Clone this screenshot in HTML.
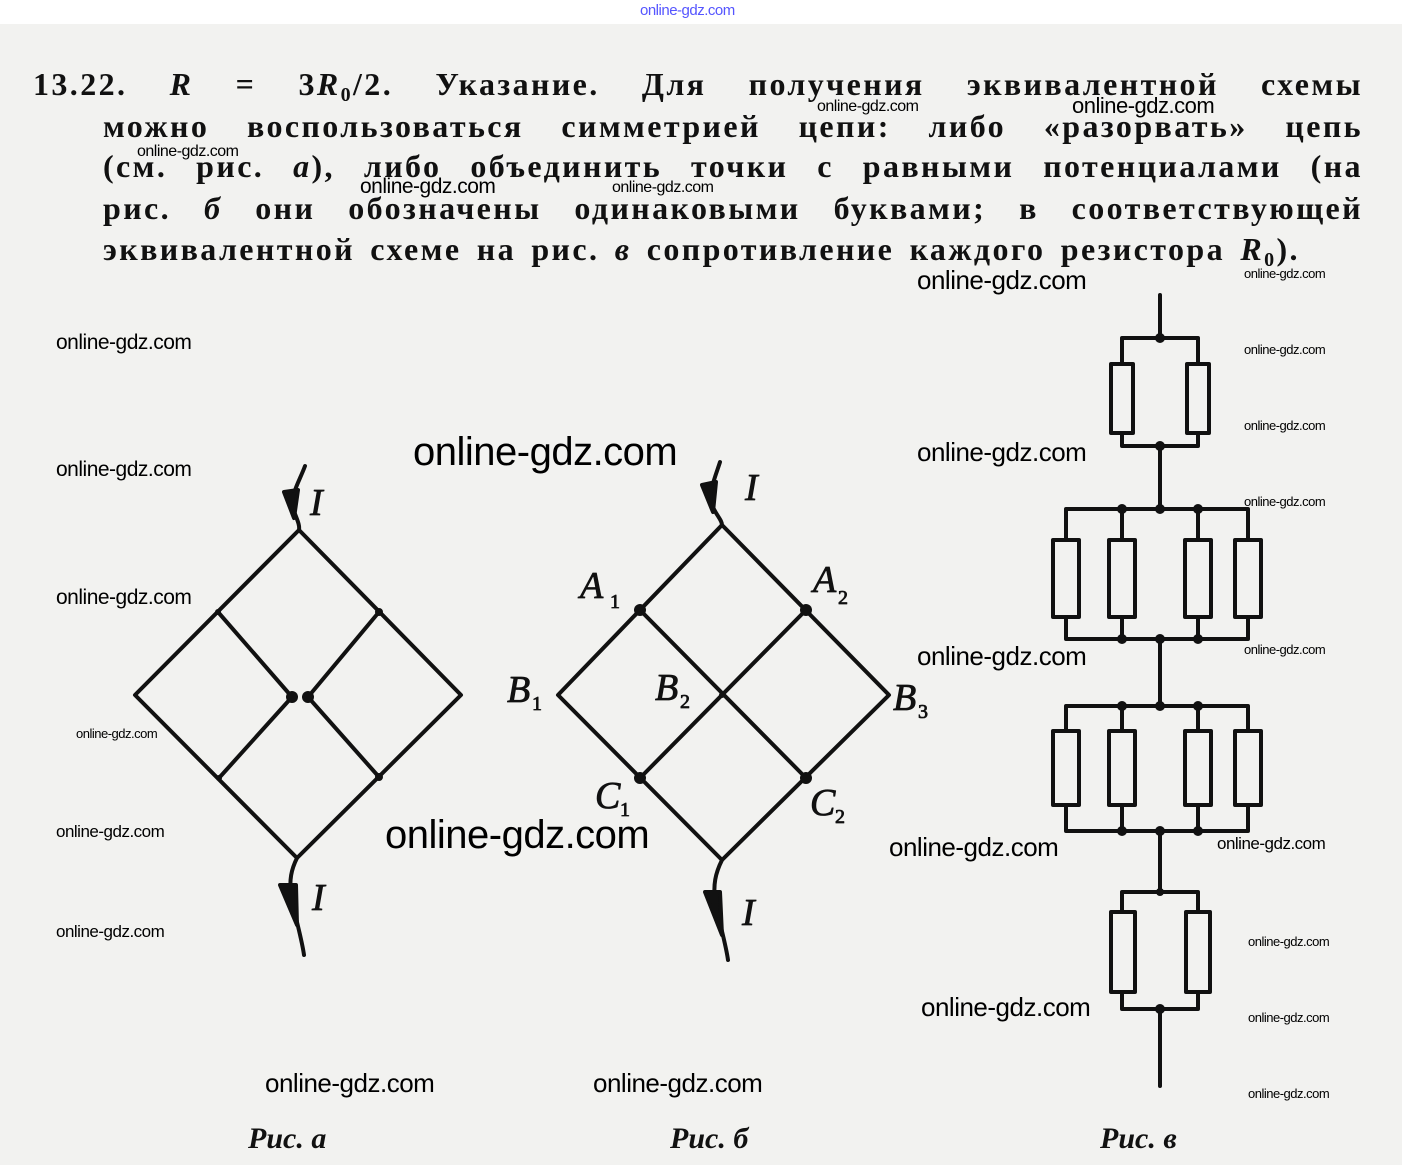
<!DOCTYPE html>
<html><head><meta charset="utf-8"><style>
body{margin:0;width:1402px;height:1165px;background:#f2f2f0;position:relative;overflow:hidden;font-family:"Liberation Serif",serif}
.top{position:absolute;left:0;top:0;width:1402px;height:24px;background:#fff}
.ln{position:absolute;font-weight:bold;font-size:32px;letter-spacing:2.4px;white-space:nowrap;color:#111;line-height:36px;display:flex;justify-content:space-between}
.w{position:absolute;font-family:"Liberation Sans",sans-serif;color:#000;white-space:nowrap;line-height:1;letter-spacing:-0.5px}
sub{font-size:20px;vertical-align:-6px;line-height:0}
i{font-style:italic}
</style></head><body>
<div class="top"></div>
<div class="w" style="left:640px;top:3px;font-size:15px;color:#55f">online-gdz.com</div>
<div class="ln" style="left:33px;top:66px;width:1330px"><span>13.22.</span><span><i>R</i></span><span>=</span><span>3<i>R</i><sub>0</sub>/2.</span><span>Указание.</span><span>Для</span><span>получения</span><span>эквивалентной</span><span>схемы</span></div>
<div class="ln" style="left:103px;top:108px;width:1260px"><span>можно</span><span>воспользоваться</span><span>симметрией</span><span>цепи:</span><span>либо</span><span>«разорвать»</span><span>цепь</span></div>
<div class="ln" style="left:103px;top:148px;width:1260px"><span>(см.</span><span>рис.</span><span><i>а</i>),</span><span>либо</span><span>объединить</span><span>точки</span><span>с</span><span>равными</span><span>потенциалами</span><span>(на</span></div>
<div class="ln" style="left:103px;top:190px;width:1260px"><span>рис.</span><span><i>б</i></span><span>они</span><span>обозначены</span><span>одинаковыми</span><span>буквами;</span><span>в</span><span>соответствующей</span></div>
<div class="ln" style="left:103px;top:231px;width:1197px"><span>эквивалентной</span><span>схеме</span><span>на</span><span>рис.</span><span><i>в</i></span><span>сопротивление</span><span>каждого</span><span>резистора</span><span><i>R</i><sub>0</sub>).</span></div>

<svg style="position:absolute;left:0;top:0" width="1402" height="1165" fill="none" stroke="#111" stroke-width="4" stroke-linecap="round" stroke-linejoin="round">
<path d="M299,530 L135,695 L297,858 L461,695 Z"/>
<path d="M218,612 L292,697 L219,778"/>
<path d="M379,612 L308,697 L379,777"/>
<g fill="#111" stroke="none"><circle cx="292" cy="697" r="6"/><circle cx="308" cy="697" r="6"/><circle cx="218" cy="612" r="3"/><circle cx="379" cy="612" r="4"/><circle cx="219" cy="778" r="3"/><circle cx="379" cy="777" r="4"/></g>
<path d="M305,466 C300,480 290,495 293,508 C296,518 300,524 299,530"/>
<path d="M297,858 C292,868 288,880 292,900 C296,920 302,940 304,955"/>
<path d="M284,492 L294,518 L298,490 Z" fill="#111"/>
<path d="M280,885 L297,925 L296,885 Z" fill="#111"/>
<path d="M722,525 L558,695 L722,860 L889,695 Z"/>
<path d="M640,610 L806,778"/>
<path d="M806,610 L640,778"/>
<g fill="#111" stroke="none"><circle cx="640" cy="610" r="6"/><circle cx="806" cy="610" r="6"/><circle cx="640" cy="778" r="6"/><circle cx="806" cy="778" r="6"/><circle cx="722" cy="695" r="3"/></g>
<path d="M720,462 C716,475 708,492 712,505 C716,515 722,520 722,525"/>
<path d="M722,860 C716,872 712,885 716,905 C720,925 726,945 728,960"/>
<path d="M702,485 L713,512 L716,482 Z" fill="#111"/>
<path d="M705,892 L722,935 L720,892 Z" fill="#111"/>
<path d="M1160,295 L1160,338 M1122,338 L1198,338 M1122,338 L1122,364 M1198,338 L1198,364 M1122,433 L1122,446 L1198,446 L1198,433 M1160,446 L1160,509"/>
<rect x="1111" y="364" width="22" height="69"/><rect x="1187" y="364" width="22" height="69"/>
<path d="M1066,509 L1248,509 M1066,509 L1066,540 M1122,509 L1122,540 M1198,509 L1198,540 M1248,509 L1248,540 M1066,617 L1066,639 L1248,639 L1248,617 M1122,617 L1122,639 M1198,617 L1198,639 M1160,639 L1160,706"/>
<rect x="1053" y="540" width="26" height="77"/><rect x="1109" y="540" width="26" height="77"/><rect x="1185" y="540" width="26" height="77"/><rect x="1235" y="540" width="26" height="77"/>
<path d="M1066,706 L1248,706 M1066,706 L1066,731 M1122,706 L1122,731 M1198,706 L1198,731 M1248,706 L1248,731 M1066,805 L1066,831 L1248,831 L1248,805 M1122,805 L1122,831 M1198,805 L1198,831 M1160,831 L1160,892"/>
<rect x="1053" y="731" width="26" height="74"/><rect x="1109" y="731" width="26" height="74"/><rect x="1185" y="731" width="26" height="74"/><rect x="1235" y="731" width="26" height="74"/>
<path d="M1122,892 L1198,892 M1122,892 L1122,912 M1198,892 L1198,912 M1122,992 L1122,1009 L1198,1009 L1198,992 M1160,1009 L1160,1086"/>
<rect x="1111" y="912" width="24" height="80"/><rect x="1186" y="912" width="24" height="80"/>
<g fill="#111" stroke="none"><circle cx="1160" cy="338" r="5"/><circle cx="1160" cy="446" r="5"/><circle cx="1160" cy="509" r="5"/><circle cx="1122" cy="509" r="5"/><circle cx="1198" cy="509" r="5"/><circle cx="1160" cy="639" r="5"/><circle cx="1122" cy="639" r="5"/><circle cx="1198" cy="639" r="5"/><circle cx="1160" cy="706" r="5"/><circle cx="1122" cy="706" r="5"/><circle cx="1198" cy="706" r="5"/><circle cx="1160" cy="831" r="5"/><circle cx="1122" cy="831" r="5"/><circle cx="1198" cy="831" r="5"/><circle cx="1160" cy="892" r="4"/><circle cx="1160" cy="1009" r="5"/></g>
<g fill="#111" stroke="#111" stroke-width="0.8" font-family="Liberation Serif,serif" font-style="italic" font-size="38">
<text x="310" y="515">I</text><text x="312" y="910">I</text><text x="745" y="500">I</text><text x="742" y="925">I</text>
<text x="580" y="598">A</text><text x="610" y="608" font-size="20" font-style="normal">1</text>
<text x="813" y="592">A</text><text x="838" y="604" font-size="20" font-style="normal">2</text>
<text x="507" y="702">B</text><text x="532" y="710" font-size="20" font-style="normal">1</text>
<text x="655" y="700">B</text><text x="680" y="708" font-size="20" font-style="normal">2</text>
<text x="893" y="710">B</text><text x="918" y="718" font-size="20" font-style="normal">3</text>
<text x="595" y="808">C</text><text x="620" y="816" font-size="20" font-style="normal">1</text>
<text x="810" y="815">C</text><text x="835" y="823" font-size="20" font-style="normal">2</text>
</g>
<g fill="#111" stroke="none" font-family="Liberation Serif,serif" font-style="italic" font-weight="bold" font-size="30">
<text x="248" y="1148">Рис. а</text><text x="670" y="1148">Рис. б</text><text x="1100" y="1148">Рис. в</text>
</g>
</svg>

<div class="w" style="left:817px;top:99px;font-size:16px">online-gdz.com</div>
<div class="w" style="left:1072px;top:95px;font-size:22px">online-gdz.com</div>
<div class="w" style="left:137px;top:144px;font-size:16px">online-gdz.com</div>
<div class="w" style="left:360px;top:176px;font-size:21px">online-gdz.com</div>
<div class="w" style="left:612px;top:180px;font-size:16px">online-gdz.com</div>
<div class="w" style="left:917px;top:267px;font-size:26px">online-gdz.com</div>
<div class="w" style="left:1244px;top:267px;font-size:13px">online-gdz.com</div>
<div class="w" style="left:56px;top:332px;font-size:21px">online-gdz.com</div>
<div class="w" style="left:1244px;top:343px;font-size:13px">online-gdz.com</div>
<div class="w" style="left:1244px;top:419px;font-size:13px">online-gdz.com</div>
<div class="w" style="left:413px;top:432px;font-size:40px">online-gdz.com</div>
<div class="w" style="left:917px;top:439px;font-size:26px">online-gdz.com</div>
<div class="w" style="left:56px;top:459px;font-size:21px">online-gdz.com</div>
<div class="w" style="left:1244px;top:495px;font-size:13px">online-gdz.com</div>
<div class="w" style="left:56px;top:587px;font-size:21px">online-gdz.com</div>
<div class="w" style="left:917px;top:643px;font-size:26px">online-gdz.com</div>
<div class="w" style="left:1244px;top:643px;font-size:13px">online-gdz.com</div>
<div class="w" style="left:76px;top:727px;font-size:13px">online-gdz.com</div>
<div class="w" style="left:56px;top:823px;font-size:17px">online-gdz.com</div>
<div class="w" style="left:385px;top:815px;font-size:40px">online-gdz.com</div>
<div class="w" style="left:889px;top:834px;font-size:26px">online-gdz.com</div>
<div class="w" style="left:1217px;top:835px;font-size:17px">online-gdz.com</div>
<div class="w" style="left:56px;top:923px;font-size:17px">online-gdz.com</div>
<div class="w" style="left:1248px;top:935px;font-size:13px">online-gdz.com</div>
<div class="w" style="left:921px;top:994px;font-size:26px">online-gdz.com</div>
<div class="w" style="left:1248px;top:1011px;font-size:13px">online-gdz.com</div>
<div class="w" style="left:265px;top:1070px;font-size:26px">online-gdz.com</div>
<div class="w" style="left:593px;top:1070px;font-size:26px">online-gdz.com</div>
<div class="w" style="left:1248px;top:1087px;font-size:13px">online-gdz.com</div>
</body></html>
